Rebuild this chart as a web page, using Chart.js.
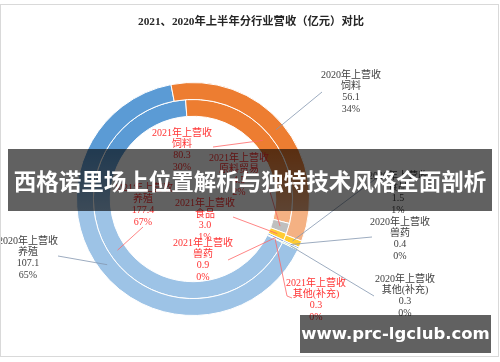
<!DOCTYPE html>
<html>
<head>
<meta charset="utf-8">
<script src="https://cdn.jsdelivr.net/npm/chart.js@4.4.0/dist/chart.umd.min.js"></script>
<style>
  body { margin: 0; width: 500px; height: 362px; overflow: hidden; background: #fff; position: relative; }
  #chart { position: absolute; left: 0; top: 0; }
  #frame { position: absolute; left: 0; top: 4px; width: 497px; height: 351px; border: 1px solid #d9d9d9; pointer-events: none; }
  .banner {
    position: absolute; left: 8px; top: 149px; width: 484px; height: 62px;
    background: rgba(0, 0, 0, 0.62); color: #fff;
    font: bold 22.5px "Noto Sans CJK SC", sans-serif;
    line-height: 62px; text-align: center; white-space: nowrap;
  }
  .mark {
    position: absolute; left: 300px; top: 315px; width: 191px; height: 38px;
    background: rgba(0, 0, 0, 0.62); color: #fff;
    font: bold 16.5px "DejaVu Sans", sans-serif;
    line-height: 38px; text-align: center; white-space: nowrap;
  }
</style>
</head>
<body>
<canvas id="chart" width="500" height="362"></canvas>
<div id="frame"></div>
<div class="banner">西格诺里场上位置解析与独特技术风格全面剖析</div>
<div class="mark">www.prc-lgclub.com</div>
<script>
// data (亿元)
const chartTitle = '2021、2020年上半年分行业营收（亿元）对比';
const categories = ['养殖', '饲料', '原料贸易', '食品', '兽药', '其他(补充)'];
const seriesNames = ['2020年上营收', '2021年上营收'];
const values2020 = [107.1, 56.1, 0, 1.5, 0.4, 0.3];
const values2021 = [177.4, 80.3, 4.5, 3.0, 0.9, 0.3];

// Excel-ish palette, darker at top, lighter lower down
const baseColors  = ['#5B9BD5', '#ED7D31', '#A5A5A5', '#FFC000', '#4472C4', '#70AD47'];
const lightColors = ['#9DC3E6', '#F4B183', '#BFBFBF', '#FFCB33', '#8FAADC', '#A9D18E'];

// where each label sits, and where its leader line stops
const layout2020 = [
    { x: 28,  y: 241, end: [58, 256] },
    { x: 351, y: 75,  end: [322, 92] },
    null,
    { x: 398, y: 176, end: [378, 177] },
    { x: 400, y: 222, end: [372, 237] },
    { x: 405, y: 279, end: [374, 296] }
];
const layout2021 = [
    { x: 143, y: 188, end: [143, 227] },
    { x: 182, y: 133, end: [213, 147] },
    { x: 239, y: 158, end: [266, 178] },
    { x: 205, y: 203, end: [233, 217] },
    { x: 203, y: 243, end: [228, 260] },
    { x: 316, y: 283, via: [[287, 296]], end: [292, 298] }
];
const layouts = [layout2020, layout2021];
const textColors = ['#404040', '#FF3333'];
const lineColors = ['#8497B0', '#FF6666'];
const labelFont = '10px "Liberation Serif", "Noto Sans CJK SC", serif';
const titleFont = 'bold 11.3px "Liberation Serif", "Noto Sans CJK SC", serif';
const lineH = 11.3;

const gradCache = {};
function ringFill(ctx) {
    const i = ctx.dataIndex;
    const area = ctx.chart.chartArea;
    if (!area || i === undefined) return baseColors[i || 0];
    const key = i + ':' + area.top + ':' + area.bottom;
    if (!gradCache[key]) {
        const g = ctx.chart.ctx.createLinearGradient(0, area.top, 0, area.bottom);
        g.addColorStop(0, baseColors[i]);
        g.addColorStop(0.3, baseColors[i]);
        g.addColorStop(0.55, lightColors[i]);
        g.addColorStop(1, lightColors[i]);
        gradCache[key] = g;
    }
    return gradCache[key];
}

const leaderLabels = {
    id: 'leaderLabels',
    afterDatasetsDraw(chart) {
        const c = chart.ctx;
        // title, centred on the whole frame rather than the doughnut
        c.save();
        c.fillStyle = '#262626';
        c.font = titleFont;
        c.textAlign = 'center';
        c.textBaseline = 'middle';
        c.fillText(chartTitle, 251, 22);
        c.restore();

        chart.data.datasets.forEach((ds, d) => {
            const meta = chart.getDatasetMeta(d);
            const total = ds.data.reduce((a, b) => a + b, 0);
            meta.data.forEach((arc, i) => {
                const pos = layouts[d][i];
                if (!pos || !ds.data[i]) return;
                const p = arc.getProps(['x', 'y', 'startAngle', 'endAngle', 'innerRadius', 'outerRadius'], true);
                const mid = (p.startAngle + p.endAngle) / 2;
                const r = (p.innerRadius + p.outerRadius) / 2;
                c.save();
                c.strokeStyle = lineColors[d];
                c.lineWidth = 0.8;
                c.beginPath();
                c.moveTo(p.x + Math.cos(mid) * r, p.y + Math.sin(mid) * r);
                (pos.via || []).forEach(v => c.lineTo(v[0], v[1]));
                c.lineTo(pos.end[0], pos.end[1]);
                c.stroke();

                const lines = [
                    seriesNames[d],
                    categories[i],
                    ds.data[i].toFixed(1),
                    Math.round(ds.data[i] / total * 100) + '%'
                ];
                c.fillStyle = textColors[d];
                c.font = labelFont;
                c.textAlign = 'center';
                c.textBaseline = 'middle';
                lines.forEach((t, k) => c.fillText(t, pos.x, pos.y + k * lineH));
                c.restore();
            });
        });
    }
};

new Chart(document.getElementById('chart'), {
    type: 'doughnut',
    data: {
        labels: categories,
        datasets: [
            {
                label: seriesNames[0],
                data: values2020,
                backgroundColor: ringFill,
                borderColor: '#fff',
                borderWidth: 1
            },
            {
                label: seriesNames[1],
                data: values2021,
                backgroundColor: ringFill,
                borderColor: '#fff',
                borderWidth: 1
            }
        ]
    },
    options: {
        responsive: false,
        animation: false,
        rotation: 116,
        cutout: '71%',
        hoverOffset: 0,
        layout: { padding: { left: 76, right: 190, top: 82, bottom: 46 } },
        plugins: {
            legend: { display: false },
            tooltip: { enabled: false },
            title: { display: false }
        }
    },
    plugins: [leaderLabels]
});
</script>
</body>
</html>
